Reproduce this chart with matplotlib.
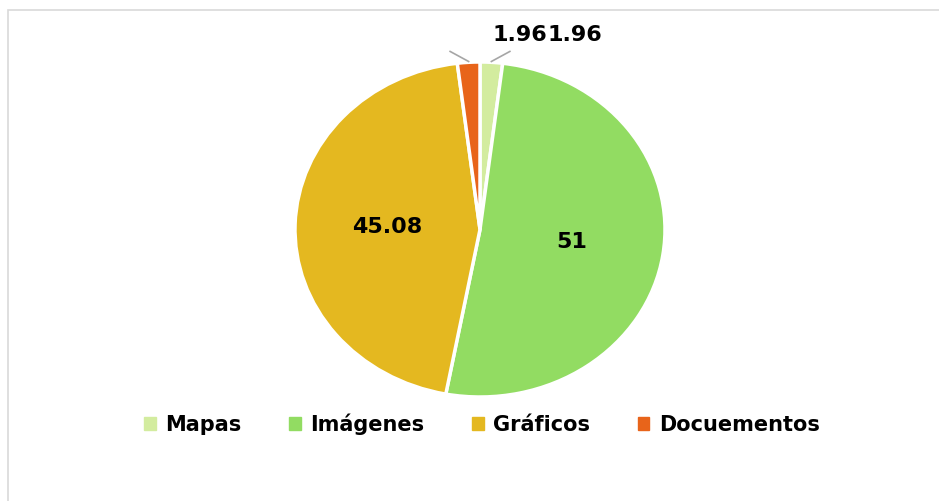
import numpy as np
import matplotlib
matplotlib.use("Agg")
import matplotlib.pyplot as plt
from matplotlib.patches import Rectangle

categorias = ["Mapas", "Imágenes", "Gráficos", "Docuementos"]
valores = [1.96, 51, 45.08, 1.96]
etiquetas = ["1.96", "51", "45.08", "1.96"]
colores = ["#d3ec9f", "#92dc62", "#e4b820", "#e8641a"]

fig = plt.figure(figsize=(9.39, 5.01), dpi=100)
# marco gris del area del grafico
fig.patches.append(Rectangle((8/939, -0.05), 1.1, (501-10)/501 + 0.05,
                             transform=fig.transFigure, fill=False,
                             edgecolor="#d9d9d9", lw=1.2))

# pie eliptico: ancho 370px, alto 335px
ax = fig.add_axes([295/939, (501-397)/501, 370/939, 335/501])
wedges, _ = ax.pie(valores, colors=colores, startangle=90, counterclock=False,
                   wedgeprops=dict(edgecolor="white", linewidth=2.5))
ax.set_aspect("auto")
ax.set_xlim(-1, 1)
ax.set_ylim(-1, 1)

fuente = dict(fontsize=16, fontweight="bold", color="black", family="DejaVu Sans")

for w, lab in zip(wedges, etiquetas):
    ang = np.deg2rad((w.theta1 + w.theta2) / 2)
    frac = abs(w.theta2 - w.theta1) / 360
    if frac > 0.1:
        ax.text(0.5*np.cos(ang), 0.5*np.sin(ang), lab, ha="center", va="center", **fuente)

# etiquetas exteriores de los sectores pequenos (Excel las junta arriba)
pequenos = [i for i, w in enumerate(wedges) if abs(w.theta2 - w.theta1) / 360 < 0.1]
alineacion = {0: "right", 3: "left"}
for i in pequenos:
    w = wedges[i]
    ang = np.deg2rad((w.theta1 + w.theta2) / 2)
    x0, y0 = 1.0*np.cos(ang), 1.0*np.sin(ang)
    s = 1 if np.cos(ang) > 0 else -1
    ax.plot([x0, x0 + s*0.1], [y0 + 0.005, y0 + 0.065], color="#a6a6a6",
            lw=1.2, clip_on=False)
    ax.text(0.365, 1.16, etiquetas[i], ha=alineacion[i], va="center", clip_on=False, **fuente)

handles = [plt.Rectangle((0, 0), 1, 1, color=c) for c in colores]
fig.legend(handles, categorias, loc="center", bbox_to_anchor=(482/939, 1 - 424/501),
           ncol=4, frameon=False, handlelength=0.55, handleheight=0.55,
           handletextpad=0.45, columnspacing=2.3,
           prop=dict(size=15, weight="bold", family="DejaVu Sans"))

fig.savefig("out.png", dpi=100)
